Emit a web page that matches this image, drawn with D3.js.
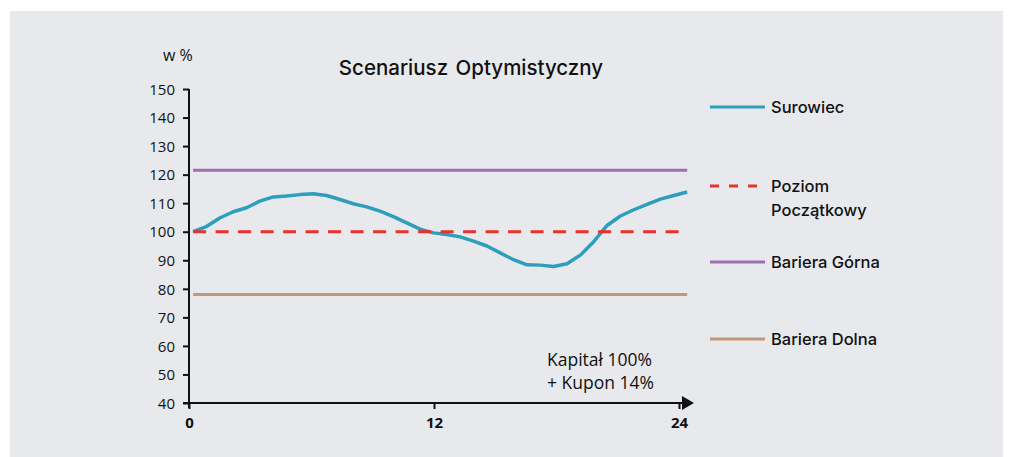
<!DOCTYPE html>
<html>
<head>
<meta charset="utf-8">
<script src="https://cdn.jsdelivr.net/npm/d3@7"></script>
<style>
  body { margin: 0; background: #fff; }
  svg text { font-family: "Open Sans", Lato, sans-serif; fill: #111; }
  svg text.medium { font-family: Inter, "Open Sans", sans-serif; font-weight: 500; }
</style>
</head>
<body>
<div id="chart"></div>
<script>
// Surowiec values, evenly spaced between lineStart and lineEnd (months)
const surowiec = [100, 101.8, 104.8, 107, 108.4, 110.7, 112.2, 112.5, 113, 113.3,
  112.7, 111.3, 109.8, 108.7, 107.2, 105.3, 103.1, 100.9, 99.6, 99,
  98.2, 96.7, 95, 92.6, 90.2, 88.4, 88.3, 87.8, 88.8, 91.8,
  96.5, 102.2, 105.5, 107.7, 109.6, 111.4, 112.7, 113.9];
const lineStart = 0.2;
const lineEnd = 24.4;
const dashedEnd = 24.05;
const poziom = 100;
const barieraGorna = 121.5;
const barieraDolna = 78;
const yTicks = [40, 50, 60, 70, 80, 90, 100, 110, 120, 130, 140, 150];
const xTicks = [0, 12, 24];
const legendItems = ['Surowiec', 'Poziom|Początkowy', 'Bariera Górna', 'Bariera Dolna'];
const note = ['Kapitał 100%', '+ Kupon 14%'];

const W = 1013, H = 457;
const svg = d3.select('#chart').append('svg').attr('width', W).attr('height', H);

svg.append('rect').attr('x', 10).attr('y', 11).attr('width', 993).attr('height', 446).attr('fill', '#e8e9ed');

const x = d3.scaleLinear().domain([0, 24]).range([189, 679]);
const y = d3.scaleLinear().domain([40, 150]).range([403, 89]);

// y axis
const yAxis = svg.append('g').attr('transform', 'translate(189,0)')
  .call(d3.axisLeft(y).tickValues(yTicks).tickSize(6).tickPadding(8));
yAxis.select('.domain').remove();
yAxis.selectAll('.tick line').attr('stroke', '#111').attr('stroke-width', 2);
yAxis.selectAll('.tick text').style('font-size', '15px').attr('dy', '0.35em');
svg.append('line').attr('x1', 189).attr('x2', 189).attr('y1', 89).attr('y2', 408)
  .attr('stroke', '#111').attr('stroke-width', 2);

// x axis
const xAxis = svg.append('g').attr('transform', 'translate(0,403)')
  .call(d3.axisBottom(x).tickValues(xTicks).tickSize(6).tickPadding(8));
xAxis.select('.domain').remove();
xAxis.selectAll('.tick line').attr('stroke', '#111').attr('stroke-width', 2);
xAxis.selectAll('.tick text').style('font-size', '15px').style('font-weight', 'bold');
svg.append('line').attr('x1', 183).attr('x2', 684).attr('y1', 403).attr('y2', 403)
  .attr('stroke', '#111').attr('stroke-width', 2);
svg.append('path').attr('d', 'M682,396 L694,403 L682,410 Z').attr('fill', '#111');

// horizontal reference lines
svg.append('line').attr('x1', x(lineStart)).attr('x2', x(lineEnd))
  .attr('y1', y(barieraGorna)).attr('y2', y(barieraGorna))
  .attr('stroke', '#9b70b3').attr('stroke-width', 3);
svg.append('line').attr('x1', x(lineStart)).attr('x2', x(lineEnd))
  .attr('y1', y(barieraDolna)).attr('y2', y(barieraDolna))
  .attr('stroke', '#c2977a').attr('stroke-width', 3);

// surowiec
const step = (lineEnd - lineStart) / (surowiec.length - 1);
const line = d3.line().x((d, i) => x(lineStart + i * step)).y(d => y(d));
svg.append('path').datum(surowiec).attr('fill', 'none')
  .attr('stroke', '#2d9fbc').attr('stroke-width', 3.5)
  .attr('stroke-linejoin', 'round').attr('d', line);

svg.append('line').attr('x1', x(lineStart)).attr('x2', x(dashedEnd))
  .attr('y1', y(poziom)).attr('y2', y(poziom))
  .attr('stroke', '#e8302c').attr('stroke-width', 3).attr('stroke-dasharray', '13,9.5');

// titles
svg.append('text').attr('class', 'medium').attr('x', 471).attr('y', 75).attr('text-anchor', 'middle')
  .style('font-size', '20.5px').style('word-spacing', '2px').text('Scenariusz  Optymistyczny');
svg.append('text').attr('x', 163).attr('y', 61).style('font-size', '16px').text('w %');

// annotation
note.forEach((t, i) => {
  svg.append('text').attr('x', 547).attr('y', 366 + i * 23).style('font-size', '17.5px')
    .text(t);
});

// legend
const legendY = [107, 186, 262, 339];
const legendStyle = [
  { c: '#2d9fbc', dash: null },
  { c: '#e8302c', dash: '9,10' },
  { c: '#9b70b3', dash: null },
  { c: '#c2977a', dash: null }
];
legendItems.forEach((name, i) => {
  const g = svg.append('g').attr('transform', `translate(709,${legendY[i]})`);
  g.append('line').attr('x1', 1).attr('x2', 56).attr('stroke', legendStyle[i].c)
    .attr('stroke-width', 3).attr('stroke-dasharray', legendStyle[i].dash);
  name.split('|').forEach((t, j) => {
    g.append('text').attr('class', 'medium').attr('x', 62).attr('y', 6 + j * 24)
      .style('font-size', '16.5px').text(t);
  });
});
</script>
</body>
</html>
